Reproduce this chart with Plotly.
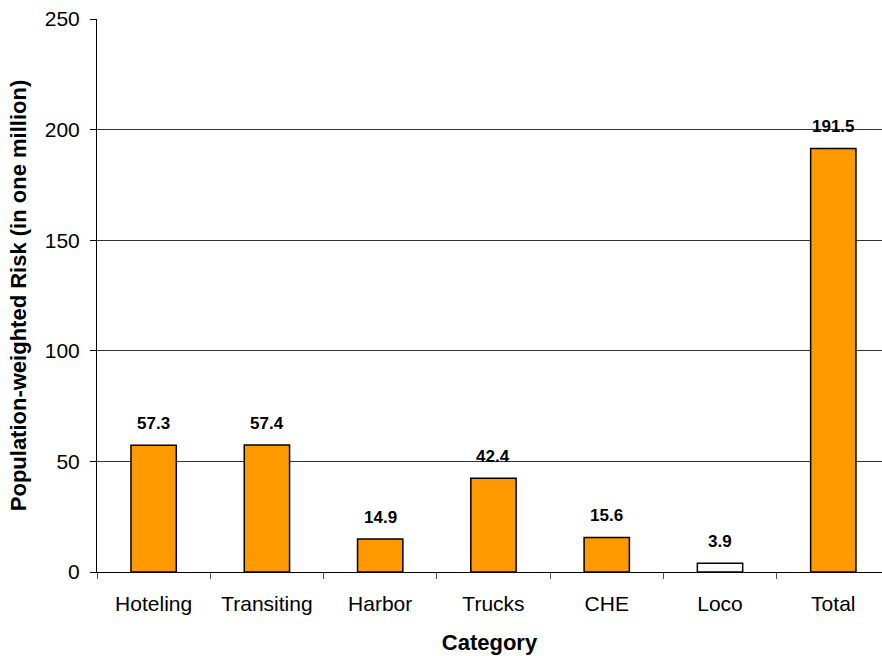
import plotly.graph_objects as go

categories = ["Hoteling", "Transiting", "Harbor", "Trucks", "CHE", "Loco", "Total"]
risk_values = [57.3, 57.4, 14.9, 42.4, 15.6, 3.9, 191.5]
bar_colors = ["#FF9900", "#FF9900", "#FF9900", "#FF9900", "#FF9900", "#FFFFFF", "#FF9900"]

y_ticks = [0, 50, 100, 150, 200, 250]
font_family = "Liberation Sans, Arial, sans-serif"

fig = go.Figure(
    go.Bar(
        x=categories,
        y=risk_values,
        width=0.4,
        marker=dict(color=bar_colors, line=dict(color="black", width=1.5)),
        hoverinfo="x+y",
    )
)

# value labels above each bar
for cat, val in zip(categories, risk_values):
    fig.add_annotation(
        x=cat, y=val, text=f"<b>{val:.1f}</b>", showarrow=False,
        yanchor="bottom", yshift=10,
        font=dict(family=font_family, size=17, color="black"),
    )

fig.update_layout(
    width=882, height=656,
    margin=dict(l=97, r=0, t=19, b=84),
    paper_bgcolor="white", plot_bgcolor="white",
    showlegend=False,
    font=dict(family=font_family, color="black"),
    bargap=0.6,
)

fig.update_xaxes(
    range=[-0.5, 6.43],
    showline=True, linecolor="black", linewidth=1,
    showgrid=False,
    ticks="outside", ticklen=6, tickcolor="#555555",
    tickson="boundaries",
    tickfont=dict(size=21),
    ticklabelstandoff=13,
    title=dict(text="<b>Category</b>", font=dict(size=22), standoff=20),
)

fig.update_yaxes(
    range=[0, 250],
    tickvals=y_ticks,
    showline=True, linecolor="black", linewidth=1,
    showgrid=True, gridcolor="#333333", gridwidth=1,
    ticks="outside", ticklen=6, tickcolor="black",
    tickfont=dict(size=21),
    ticklabelstandoff=6,
    title=dict(text="<b>Population-weighted Risk (in one million)</b>", font=dict(size=22), standoff=12),
    zeroline=False,
)

fig.write_html("out.html")
